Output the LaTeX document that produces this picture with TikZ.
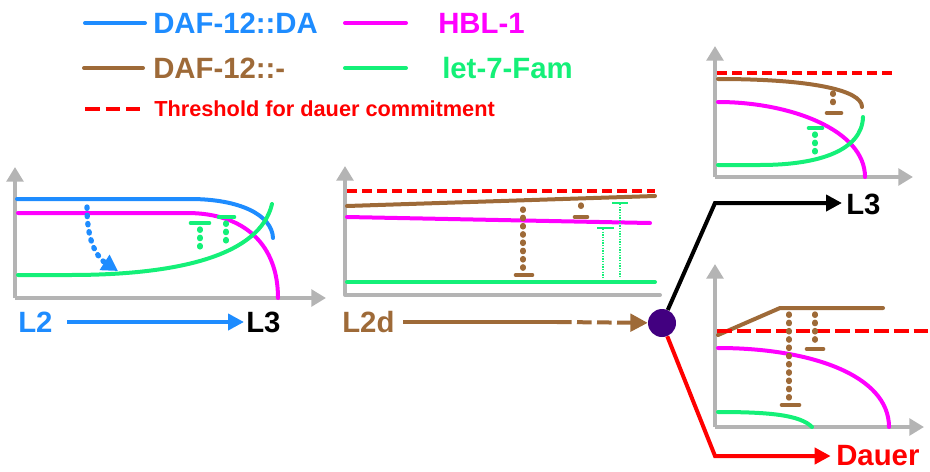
\documentclass[tikz,border=0pt]{standalone}
\usepackage{fontspec}
\setmainfont{Liberation Sans}
\usetikzlibrary{arrows.meta}
\definecolor{cblue}{RGB}{30,140,255}
\definecolor{cmag}{RGB}{255,0,255}
\definecolor{cbrown}{RGB}{158,106,56}
\definecolor{cgreen}{RGB}{20,240,120}
\definecolor{cred}{RGB}{255,0,0}
\definecolor{cgray}{RGB}{180,180,180}
\definecolor{cpurple}{RGB}{66,0,128}
\begin{document}
\begin{tikzpicture}[x=0.75pt,y=-0.75pt,
  axis/.style={cgray,line width=3pt,-{Triangle[length=11pt,width=12.5pt]}},
  axisplain/.style={cgray,line width=3pt,line cap=round},
  curve/.style={line width=3pt,line cap=round},
  lab/.style={font=\bfseries\fontsize{22}{24}\selectfont,inner sep=0pt},
  smalllab/.style={font=\bfseries\fontsize{16.3}{18}\selectfont,inner sep=0pt},
  flow/.style={line width=3pt,-{Triangle[length=12pt,width=12pt]}},
  dotline/.style={line width=4pt,line cap=round,dash pattern=on 1pt off 5.2pt},
  inhbar/.style={line width=3.5pt,line cap=round},
  thindot/.style={line width=0.8pt,dash pattern=on 1pt off 1pt},
  thinbar/.style={line width=1.2pt},
  thresh/.style={cred,line width=2.3pt,dash pattern=on 7.5pt off 3.75pt}
]
\useasboundingbox (0,0) rectangle (930,471);

% ---------- legend ----------
\draw[curve,cblue] (85,23) -- (145,23);
\node[lab,cblue,anchor=west] (lgda) at (153,23) {DAF-12::DA};
\draw[curve,cmag] (345,23) -- (406,23);
\node[lab,cmag,anchor=west] (lghbl) at (438,23) {HBL-1};
\draw[curve,cbrown] (84,68) -- (143,68);
\node[lab,cbrown,anchor=west] (lgnone) at (153,68) {DAF-12::-};
\draw[curve,cgreen] (345,68) -- (406,68);
\node[lab,cgreen,anchor=west] (lglet) at (442,68) {let-7-Fam};
\draw[cred,line width=3pt,dash pattern=on 11pt off 4.5pt] (85,109) -- (140,109);
\node[smalllab,cred,anchor=west] (lgthr) at (154,109) {Threshold for dauer commitment};

% ---------- left plot ----------
\draw[axis] (15,298) -- (15,167);
\draw[axis] (15,298) -- (326,298);
\draw[curve,cblue] (17,199) -- (190,199) .. controls (240,199) and (272,215) .. (273,238);
\draw[curve,cmag] (18,213) -- (187,213) .. controls (245,213) and (278,245) .. (278,298);
\draw[curve,cgreen] (18,275) -- (70,275) .. controls (180,275) and (260,255) .. (272,204);
\draw[cblue,dotline] (87,207) .. controls (87,235) and (93,252) .. (104,262);
\draw[cblue,line width=3pt,-{Triangle[length=12pt,width=13pt]}] (104,262) -- (118,271);
\draw[cgreen,dotline] (200,229) -- (200,249);
\draw[cgreen,inhbar] (191,223) -- (209,223);
\draw[cgreen,dotline] (226,223) -- (226,246);
\draw[cgreen,inhbar] (219,217) -- (234,217);
\node[lab,cblue,anchor=west] (l2) at (18,322) {L2};
\node[lab,black,anchor=west] (l3a) at (246,322) {L3};
\draw[flow,cblue,shorten <=11pt,shorten >=1.5pt] (l2) -- (l3a);

% ---------- middle plot ----------
\draw[axis] (345,295) -- (345,166);
\draw[axisplain] (345,295) -- (660,295);
\draw[thresh] (347,191) -- (655,191);
\draw[curve,cbrown] (347,206) -- (655,196);
\draw[curve,cmag] (347,217) -- (650,223);
\draw[curve,cgreen] (347,282) -- (655,282);
\draw[cbrown,dotline] (523,209) -- (523,270);
\draw[cbrown,inhbar] (516,275) -- (532,275);
\draw[cbrown,dotline] (581,205) -- (581,212);
\draw[cbrown,inhbar] (575,217) -- (587,217);
\draw[cgreen,thindot] (603,229) -- (603,279);
\draw[cgreen,thinbar] (597,228) -- (614,228);
\draw[cgreen,thindot] (620,204) -- (620,277);
\draw[cgreen,thinbar] (612,203) -- (628,203);
\node[lab,cbrown,anchor=west] (l2d) at (342,322) {L2d};
\node[circle,fill=cpurple,minimum size=21pt,inner sep=0pt] (circ) at (662,323) {};
\coordinate (brk) at (557,322);
\draw[cbrown,line width=3pt,shorten <=6.5pt] (l2d) -- (brk);
\draw[cbrown,line width=3pt,dash pattern=on 11pt off 4pt,-{Triangle[length=13pt,width=13pt]}] (brk) -- (circ);

% ---------- top right plot ----------
\draw[axis] (715,177) -- (715,46);
\draw[axis] (715,177) -- (913,177);
\draw[thresh] (717,73) -- (897,73);
\draw[curve,cbrown] (718,79) .. controls (810,79) and (862,90) .. (862,107);
\draw[curve,cmag] (718,102) .. controls (790,102) and (865,130) .. (865,177);
\draw[curve,cgreen] (718,165) -- (760,165) .. controls (820,165) and (862,150) .. (863,117);
\draw[cbrown,dotline] (833,93) -- (833,107);
\draw[cbrown,inhbar] (827,113) -- (841,113);
\draw[cgreen,dotline] (815,134) -- (815,153);
\draw[cgreen,inhbar] (809,128) -- (822,128);

% ---------- bottom right plot ----------
\draw[axis] (715,427) -- (715,264);
\draw[axis] (715,427) -- (924,427);
\draw[curve,cbrown] (718,335) -- (780,308) -- (883,308);
\draw[cred,line width=2.3pt,dash pattern=on 11pt off 3.75pt] (717,331) -- (930,331);
\draw[curve,cmag] (718,348) .. controls (810,348) and (889,375) .. (889,427);
\draw[curve,cgreen] (718,412) .. controls (770,412) and (800,415) .. (812,427);
\draw[cbrown,dotline] (789,314) -- (789,399);
\draw[cbrown,inhbar] (782,405) -- (799,405);
\draw[cbrown,dotline] (815,314) -- (815,343);
\draw[cbrown,inhbar] (807,349) -- (823,349);

% ---------- branches ----------
\node[lab,black,anchor=west] (l3b) at (846,204) {L3};
\node[lab,cred,anchor=west] (dauer) at (836,456) {Dauer};
\coordinate (bendup) at (715,203);
\coordinate (benddn) at (715,456);
\draw[flow,black,line join=miter,shorten >=3pt] (circ) -- (bendup) -- (bendup -| l3b.west);
\draw[flow,cred,line join=miter,shorten >=4pt] (circ) -- (benddn) -- (dauer.west);
\end{tikzpicture}
\end{document}
